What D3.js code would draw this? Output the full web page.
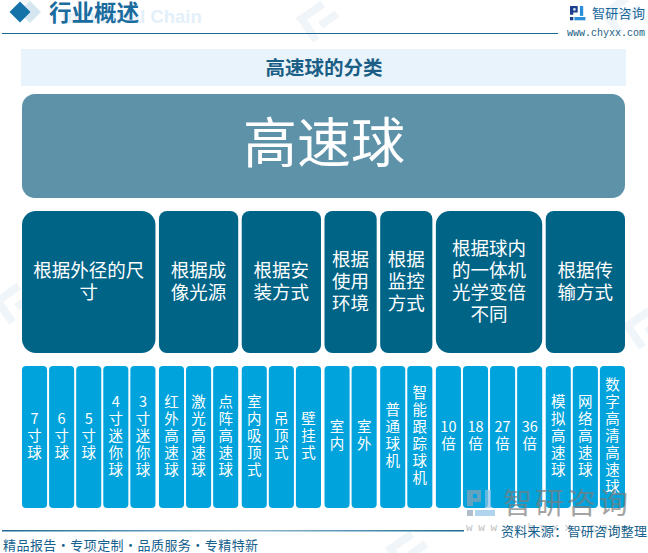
<!DOCTYPE html>
<html>
<head>
<meta charset="utf-8">
<script src="https://cdn.jsdelivr.net/npm/d3@7"></script>
<style>
  html, body { margin: 0; padding: 0; background: #fff; }
  svg { display: block; }
  text { font-family: "Noto Sans CJK SC", "Noto Sans", sans-serif; }
</style>
</head>
<body>
<svg id="chart"></svg>
<script>
const headerTitle = "行业概述";
const headerGhost = "Industrial Chain";
const chartTitle = "高速球的分类";
const rootLabel = "高速球";
const brandName = "智研咨询";
const brandUrl = "www.chyxx.com";
const footerLeft = "精品报告·专项定制·品质服务·专精特新";
const footerRight = "资料来源：智研咨询整理";

// one entry per column, \n is where the line breaks
const groupLabels = [
  "根据外径的尺\n寸", "根据成\n像光源", "根据安\n装方式", "根据\n使用\n环境",
  "根据\n监控\n方式", "根据球内\n的一体机\n光学变倍\n不同", "根据传\n输方式"
];
const groupLeaves = [
  ["7寸球", "6寸球", "5寸球", "4寸迷你球", "3寸迷你球"],
  ["红外高速球", "激光高速球", "点阵高速球"],
  ["室内吸顶式", "吊顶式", "壁挂式"],
  ["室内", "室外"],
  ["普通球机", "智能跟踪球机"],
  ["10倍", "18倍", "27倍", "36倍"],
  ["模拟高速球", "网络高速球", "数字高清高速球"]
];

const width = 648, height = 553;
const left = 22, right = 625;
const cellGap = 2, groupGap = 3.5;

const svg = d3.select("#chart").attr("width", width).attr("height", height);

const defs = svg.append("defs");
const grad = defs.append("linearGradient").attr("id", "footLine");
grad.append("stop").attr("offset", "0%").attr("stop-color", "#1b6a94");
grad.append("stop").attr("offset", "55%").attr("stop-color", "#8db7cf");
grad.append("stop").attr("offset", "100%").attr("stop-color", "#1b6a94");

// pale background marks
const wm = svg.append("g").attr("fill", "#f0f5f9");
[[-8, 300], [296, 18], [622, 325], [12, -12], [600, 12], [385, 548]].forEach(([x, y]) => {
  const g = wm.append("g").attr("transform", `translate(${x},${y}) rotate(-35)`);
  g.append("rect").attr("x", 0).attr("y", 0).attr("width", 30).attr("height", 8);
  g.append("rect").attr("x", 0).attr("y", 0).attr("width", 8).attr("height", 30);
  g.append("rect").attr("x", 16).attr("y", 16).attr("width", 20).attr("height", 8);
});

// header
svg.append("text").attr("x", 62).attr("y", 23)
  .attr("font-size", 18.5).attr("font-weight", 700).attr("fill", "#e3f0fa")
  .style("font-family", "'Liberation Sans', sans-serif").text(headerGhost);
const diamond = (cx, cy, r) => `M${cx - r},${cy}L${cx},${cy - r}L${cx + r},${cy}L${cx},${cy + r}Z`;
svg.append("path").attr("d", diamond(30, 12, 11)).attr("fill", "#d6e6f1");
svg.append("path").attr("d", diamond(20, 12, 10.5)).attr("fill", "#1472a8");
svg.append("text").attr("x", 49).attr("y", 20.5)
  .attr("font-size", 22.5).attr("font-weight", 700).attr("fill", "#1a6c9e").text(headerTitle);
svg.append("line").attr("x1", 2).attr("x2", 558).attr("y1", 33.5).attr("y2", 33.5)
  .attr("stroke", "#1b6a94").attr("stroke-width", 1);

function logo(g, s, dark, light) {
  g.append("path").attr("fill", dark)
    .attr("d", `M0,0H${7 * s}V${6 * s}H${3 * s}V${8 * s}H0Z M${3 * s},${2 * s}V${4 * s}H${5 * s}V${2 * s}Z`)
    .attr("fill-rule", "evenodd");
  g.append("rect").attr("x", 9 * s).attr("y", 0).attr("width", 3 * s).attr("height", 9 * s).attr("fill", light);
  g.append("rect").attr("x", 0).attr("y", 10 * s).attr("width", 3 * s).attr("height", 3 * s).attr("fill", dark);
  g.append("rect").attr("x", 4 * s).attr("y", 10 * s).attr("width", 10 * s).attr("height", 3 * s).attr("fill", light);
}
logo(svg.append("g").attr("transform", "translate(570,6)"), 1.1, "#1e3f8f", "#2a8fd8");
svg.append("text").attr("x", 592).attr("y", 18)
  .attr("font-size", 13).attr("letter-spacing", 0.3).attr("fill", "#15659a").text(brandName);
svg.append("text").attr("x", 567).attr("y", 36)
  .attr("font-size", 10).attr("fill", "#1b5e85")
  .style("font-family", "'Liberation Mono', monospace").text(brandUrl);

// title band
svg.append("rect").attr("x", 21).attr("y", 49).attr("width", 605).attr("height", 37).attr("fill", "#e8f3fb");
svg.append("text").attr("x", 324).attr("y", 75).attr("text-anchor", "middle")
  .attr("font-size", 19.5).attr("font-weight", 700).attr("fill", "#1b5e85").text(chartTitle);

// root box
svg.append("rect").attr("x", left).attr("y", 94).attr("width", right - left).attr("height", 104)
  .attr("rx", 13).attr("fill", "#5e92a8");
svg.append("text").attr("x", 324).attr("y", 163).attr("text-anchor", "middle")
  .attr("font-size", 54).attr("fill", "#fff").text(rootLabel);

// widths come from how many leaves each column holds
const leafCount = d3.sum(groupLeaves, d => d.length);
const cellW = (right - left - cellGap * (leafCount - groupLeaves.length) - groupGap * (groupLeaves.length - 1)) / leafCount;
const columns = [];
let cursor = left;
groupLeaves.forEach((leaves, i) => {
  const w = leaves.length * cellW + (leaves.length - 1) * cellGap;
  columns.push({ label: groupLabels[i], leaves, x: cursor, w });
  cursor += w + groupGap;
});

const groupG = svg.append("g").selectAll("g").data(columns).join("g");
groupG.append("rect")
  .attr("x", d => d.x).attr("y", 211).attr("width", d => d.w).attr("height", 142)
  .attr("rx", d => d.w > 100 ? 14 : 8).attr("fill", "#006487");
groupG.each(function (d) {
  const lines = d.label.split("\n");
  const lh = 22;
  const t = d3.select(this).append("text").attr("text-anchor", "middle")
    .attr("font-size", 18.5).attr("fill", "#fff");
  lines.forEach((line, i) => {
    t.append("tspan").attr("x", d.x + d.w / 2)
      .attr("y", 281 + (i - (lines.length - 1) / 2) * lh + 7)
      .text(line);
  });
});

const leaves = columns.flatMap(c => c.leaves.map((label, i) => ({ label, x: c.x + i * (cellW + cellGap) })));
const leafG = svg.append("g").selectAll("g").data(leaves).join("g");
leafG.append("rect")
  .attr("x", d => d.x).attr("y", 366).attr("width", cellW).attr("height", 142)
  .attr("rx", 4).attr("fill", "#00a3dc");
leafG.each(function (d) {
  const parts = d.label.match(/\d+|./g);
  const lh = 17;
  const t = d3.select(this).append("text").attr("text-anchor", "middle")
    .attr("font-size", 14.5).attr("fill", "#fff");
  parts.forEach((p, i) => {
    t.append("tspan").attr("x", d.x + cellW / 2)
      .attr("y", 435 + (i - (parts.length - 1) / 2) * lh + 5.5)
      .text(p);
  });
});

// footer
svg.append("rect").attr("x", 2).attr("y", 530).attr("width", 462).attr("height", 1.5).attr("fill", "url(#footLine)");

// brand stamp sits over the cells
const stamp = svg.append("g").attr("opacity", 0.7);
logo(stamp.append("g").attr("transform", "translate(467,490)"), 2, "#8ea3b5", "#8fc3e6");
stamp.append("text").attr("x", 503).attr("y", 514)
  .attr("font-size", 29).attr("letter-spacing", 3).attr("fill", "#7d7d7d").text(brandName);
stamp.append("text").attr("x", 466).attr("y", 531)
  .attr("font-size", 11).attr("letter-spacing", 5.7).attr("fill", "#a5a5a5")
  .style("font-family", "'Liberation Mono', monospace").text(brandUrl);

svg.append("text").attr("x", 3).attr("y", 550)
  .attr("font-size", 13).attr("letter-spacing", 0.45).attr("fill", "#15608c").text(footerLeft);
svg.append("text").attr("x", 501).attr("y", 536)
  .attr("font-size", 13).attr("letter-spacing", 0.3).attr("fill", "#15608c").text(footerRight);
</script>
</body>
</html>
